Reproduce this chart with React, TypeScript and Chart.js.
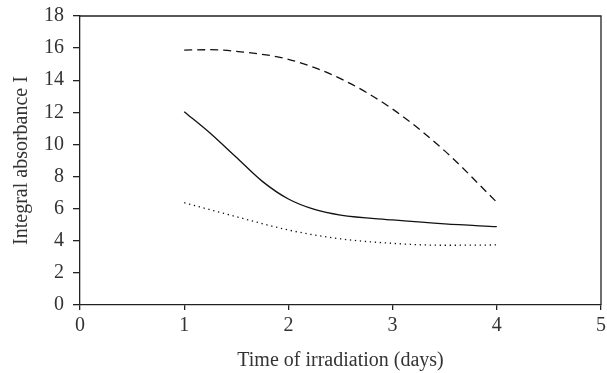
import React, { useEffect, useRef } from "react";
import { Chart, registerables } from "chart.js";

Chart.register(...registerables);

const dashedX = [1, 1.25, 1.5, 2, 2.5, 3, 3.5, 4];
const dashedY = [15.88, 15.9, 15.8, 15.3, 14.1, 12.2, 9.6, 6.4];
const solidX = [1, 1.25, 1.5, 1.75, 2, 2.25, 2.5, 3, 3.5, 4];
const solidY = [12.04, 10.7, 9.2, 7.7, 6.6, 5.95, 5.6, 5.3, 5.05, 4.88];
const dottedX = [1, 1.5, 2, 2.5, 3, 3.5, 4];
const dottedY = [6.37, 5.5, 4.67, 4.12, 3.84, 3.72, 3.74];
const xTicks = [0, 1, 2, 3, 4, 5];
const yTicks = [0, 2, 4, 6, 8, 10, 12, 14, 16, 18];

const toPts = (xs: number[], ys: number[]) => xs.map((x, i) => ({ x, y: ys[i] }));

const FONT = "'Liberation Serif', 'DejaVu Serif', serif";

const boxPlugin = {
  id: "box",
  afterDraw(chart: any) {
    const { ctx, chartArea } = chart;
    ctx.save();
    ctx.strokeStyle = "#222";
    ctx.lineWidth = 1.3;
    ctx.beginPath();
    ctx.moveTo(chartArea.left, chartArea.top);
    ctx.lineTo(chartArea.right, chartArea.top);
    ctx.lineTo(chartArea.right, chartArea.bottom);
    ctx.stroke();
    ctx.restore();
  },
};

export default function App() {
  const ref = useRef<HTMLCanvasElement>(null);
  useEffect(() => {
    document.body.style.margin = "0";
    const common = {
      borderColor: "#111",
      borderWidth: 1.3,
      pointRadius: 0,
      fill: false,
      cubicInterpolationMode: "monotone" as const,
      showLine: true,
    };
    const chart = new Chart(ref.current!, {
      type: "scatter",
      data: {
        datasets: [
          { ...common, data: toPts(dashedX, dashedY), borderDash: [8, 5] },
          { ...common, data: toPts(solidX, solidY) },
          { ...common, data: toPts(dottedX, dottedY), borderDash: [1.3, 3.7] },
        ],
      },
      options: {
        animation: false,
        responsive: false,
        layout: { padding: { top: 16, right: 6, left: 10, bottom: 0 } },
        plugins: { legend: { display: false }, tooltip: { enabled: false } },
        scales: {
          x: {
            type: "linear",
            min: 0,
            max: 5,
            afterBuildTicks: (s: any) => {
              s.ticks = xTicks.map((v) => ({ value: v }));
            },
            afterFit: (s: any) => {
              s.height = 68;
              s.paddingLeft = 0;
              s.paddingRight = 0;
            },
            grid: { drawOnChartArea: false, drawTicks: true, tickLength: 5, color: "#222", lineWidth: 1.3 },
            border: { display: true, color: "#222", width: 1.3 },
            ticks: { color: "#333", font: { family: FONT, size: 20 }, padding: 4, maxRotation: 0 },
            title: {
              display: true,
              text: "Time of irradiation (days)",
              color: "#333",
              font: { family: FONT, size: 20 },
              padding: { top: 4, bottom: 0 },
            },
          },
          y: {
            type: "linear",
            min: 0,
            max: 18,
            afterBuildTicks: (s: any) => {
              s.ticks = yTicks.map((v) => ({ value: v }));
            },
            afterFit: (s: any) => {
              s.width = 70;
              s.paddingTop = 0;
              s.paddingBottom = 0;
            },
            grid: { drawOnChartArea: false, drawTicks: true, tickLength: 7, color: "#222", lineWidth: 1.3 },
            border: { display: true, color: "#222", width: 1.3 },
            ticks: { color: "#333", font: { family: FONT, size: 20 }, padding: 9 },
            title: {
              display: true,
              text: "Integral absorbance I",
              color: "#333",
              font: { family: FONT, size: 20 },
              padding: { top: 0, bottom: 4 },
            },
          },
        },
      },
      plugins: [boxPlugin],
    } as any);
    return () => chart.destroy();
  }, []);
  return (
    <div style={{ position: "absolute", left: 0, top: 0, width: 607, height: 373, background: "#fff" }}>
      <canvas ref={ref} width={607} height={373} />
    </div>
  );
}
